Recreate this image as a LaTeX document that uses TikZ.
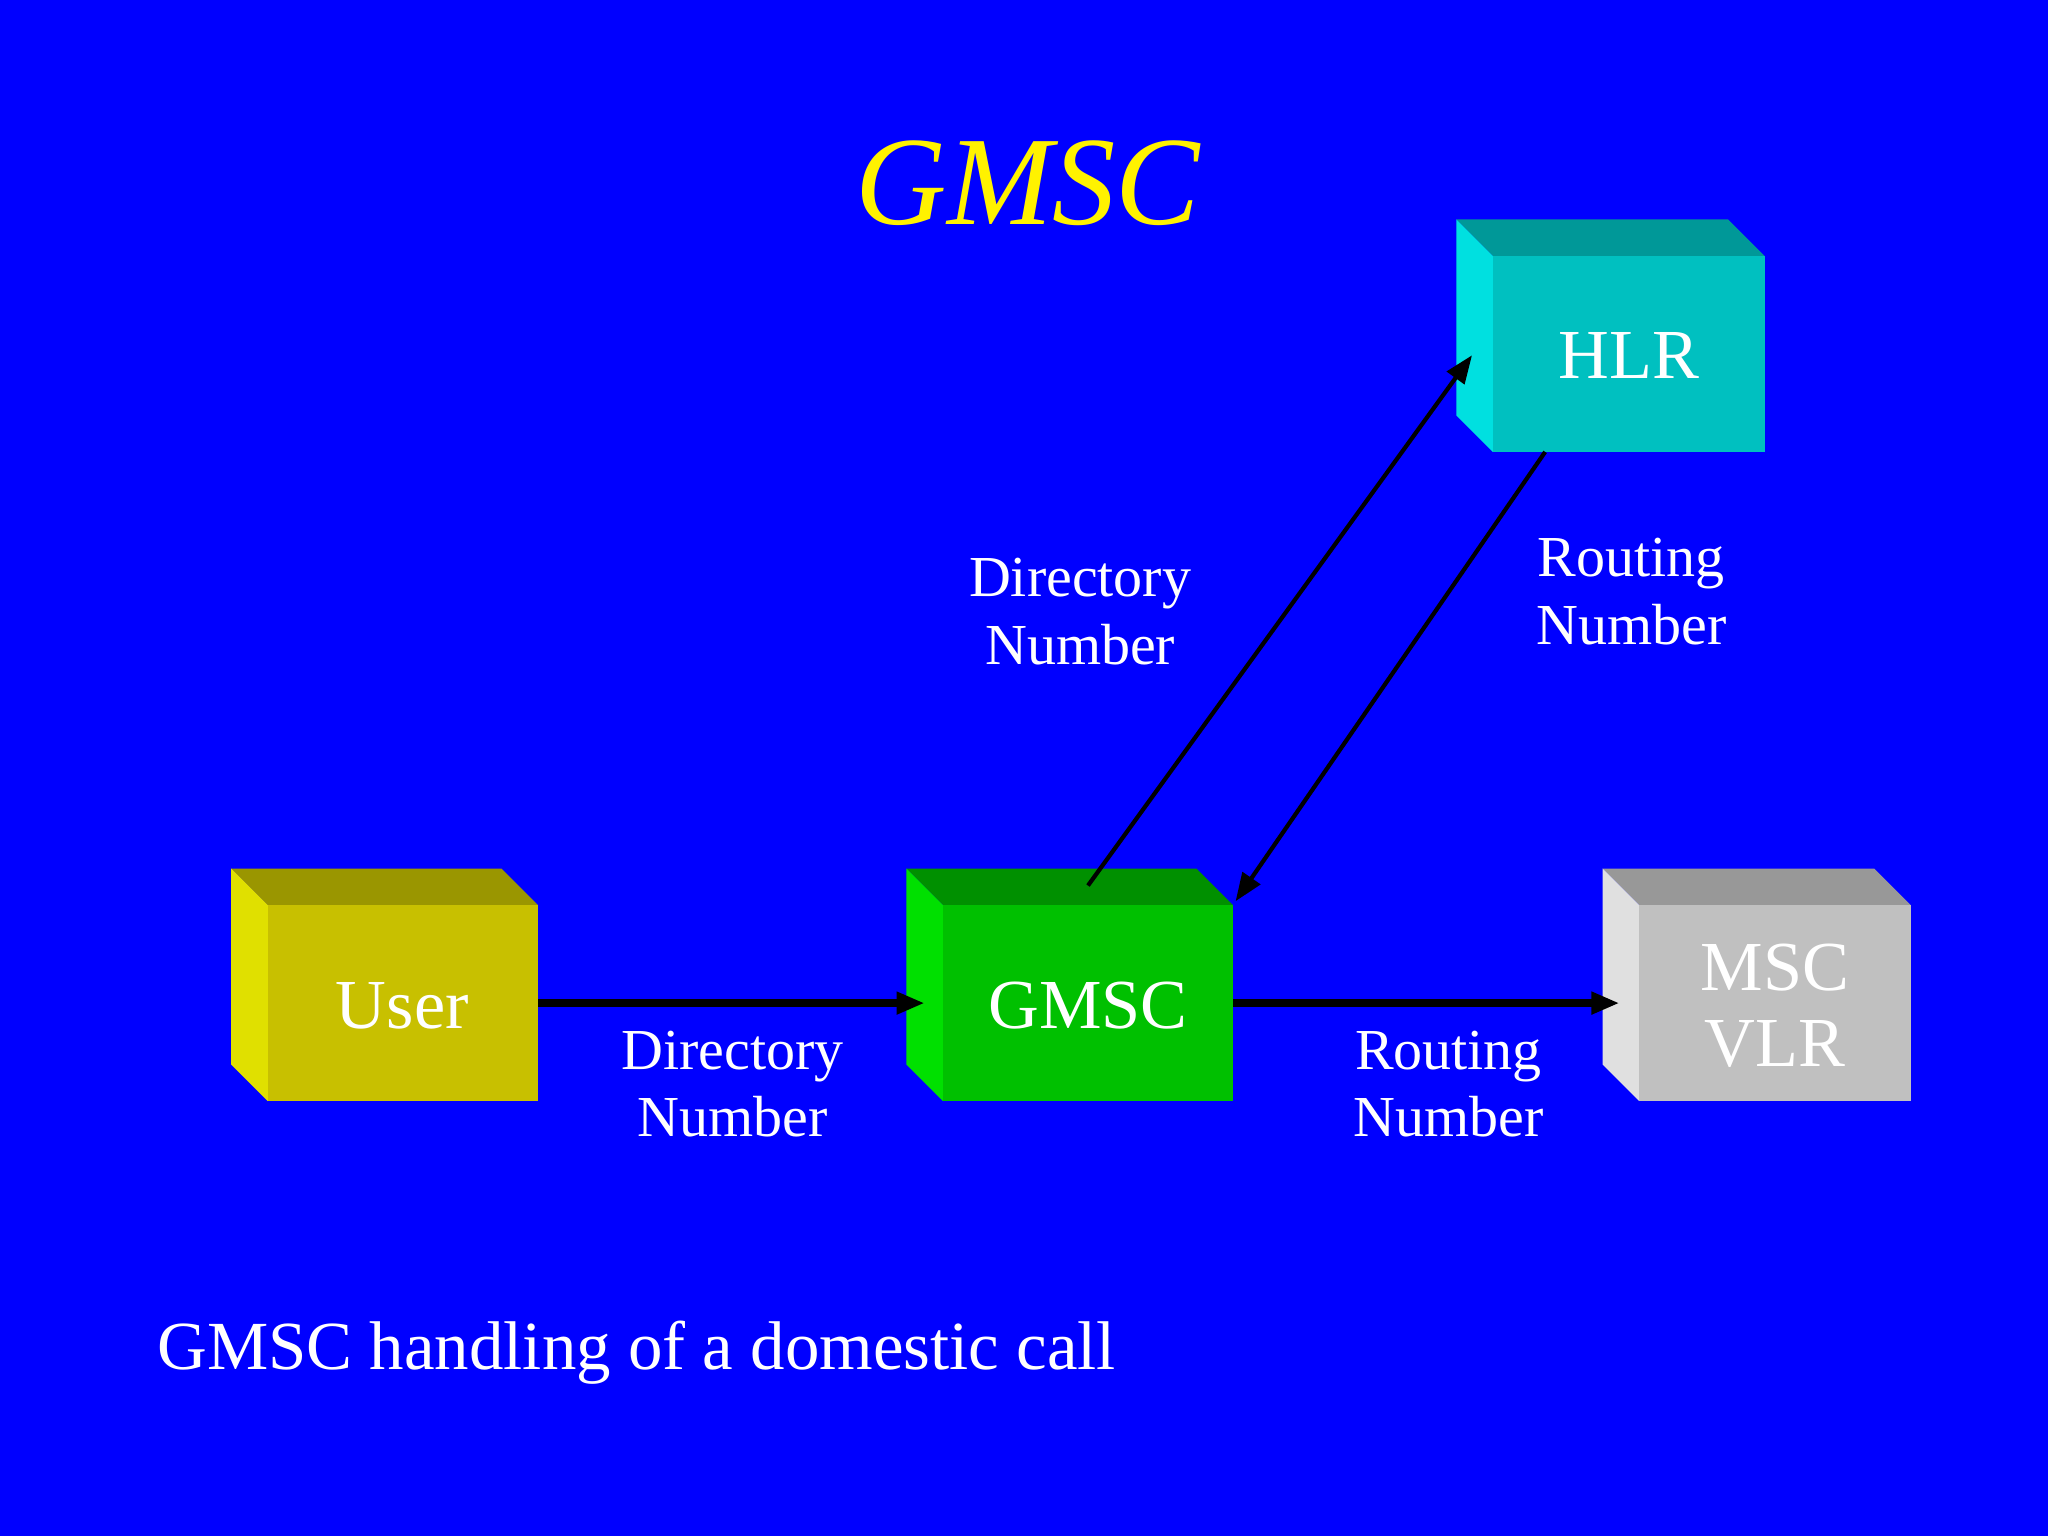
\documentclass[tikz,border=0pt]{standalone}
\usepackage{fontspec}
\setmainfont{Liberation Serif}
\usetikzlibrary{arrows.meta}
\begin{document}
\begin{tikzpicture}[x=0.013061cm,y=-0.013061cm,
  lbl/.style={text=white,font=\fontsize{16.5}{19.3}\selectfont,align=center},
  boxlbl/.style={text=white,font=\fontsize{20}{21.5}\selectfont,align=center},
  conn/.style={-{Triangle[length=8pt,width=6pt]},black}]
\fill[blue] (0,0) rectangle (1568,1176);
\useasboundingbox (0,0) rectangle (1568,1176);
\newcommand{\mycube}[7]{%
  \fill[#6] (#1-28,#2-28) -- (#3-28,#2-28) -- (#3,#2) -- (#1,#2) -- cycle;
  \fill[#7] (#1-28,#2-28) -- (#1,#2) -- (#1,#4) -- (#1-28,#4-28) -- cycle;
  \fill[#5] (#1,#2) rectangle (#3,#4);}
\definecolor{yf}{HTML}{C8C000}\definecolor{yt}{HTML}{9A9600}\definecolor{yl}{HTML}{E0E000}
\definecolor{gf}{HTML}{00C000}\definecolor{gt}{HTML}{009000}\definecolor{gl}{HTML}{00E000}
\definecolor{cf}{HTML}{00C0C0}\definecolor{ct}{HTML}{009898}\definecolor{cl}{HTML}{00E0E0}
\definecolor{sf}{HTML}{C0C0C0}\definecolor{st}{HTML}{989898}\definecolor{sl}{HTML}{E0E0E0}
\mycube{205}{693}{412}{843}{yf}{yt}{yl}
\mycube{722}{693}{944}{843}{gf}{gt}{gl}
\mycube{1143}{196}{1351}{346}{cf}{ct}{cl}
\mycube{1255}{693}{1463}{843}{sf}{st}{sl}
\node[text=yellow,font=\fontsize{36}{38}\selectfont\itshape] (title) at (787,140) {GMSC};
\node[boxlbl] (user) at (308,770) {User};
\node[boxlbl] (gmsc) at (833,770) {GMSC};
\node[boxlbl] (hlr) at (1247,272) {HLR};
\node[boxlbl] (msc) at (1359,770) {MSC\\VLR};
\coordinate (uR) at (412,768); \coordinate (gL) at (708,768);
\coordinate (gR) at (944,768); \coordinate (mL) at (1240,768);
\coordinate (gT) at (833,678); \coordinate (hA) at (1127,272);
\coordinate (hB) at (1183,346); \coordinate (gA) at (946,690);
\draw[conn,line width=2.5pt] (uR) -- (gL);
\draw[conn,line width=2.5pt] (gR) -- (mL);
\draw[conn,line width=1.2pt] (gT) -- (hA);
\draw[conn,line width=1.2pt] (hB) -- (gA);
\node[lbl] (l1) at (827,468) {Directory\\Number};
\node[lbl] (l2) at (1249,453) {Routing\\Number};
\node[lbl] (l3) at (561,830) {Directory\\Number};
\node[lbl] (l4) at (1109,830) {Routing\\Number};
\node[text=white,font=\fontsize{19.6}{21}\selectfont,anchor=west,inner sep=0pt] (cap) at (120,1036) {GMSC handling of a domestic call};
\end{tikzpicture}
\end{document}
